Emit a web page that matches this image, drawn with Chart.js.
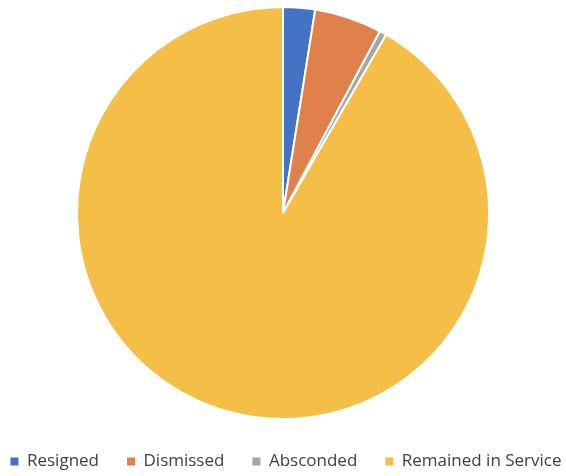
<!DOCTYPE html>
<html>
<head>
    <title>Service Outcome</title>
    <script src="https://cdn.jsdelivr.net/npm/chart.js"></script>
    <style>
        html, body { margin: 0; padding: 0; background: #fff; }
        #wrap { width: 566px; height: 476px; }
    </style>
</head>
<body>
    <div id="wrap"><canvas id="outcomeChart"></canvas></div>
    <script>
        const labels = ['Resigned', 'Dismissed', 'Absconded', 'Remained in Service'];
        const shares = [2.5, 5.3, 0.55, 91.65];
        const colours = ['#4472C4', '#E0804A', '#A5A5A5', '#F4BE47'];

        // keep the legend on one row and push it to the bottom edge
        const legendFix = {
            id: 'legendFix',
            beforeLayout(chart) {
                const lg = chart.legend;
                if (lg && !lg._patched) {
                    const fit = lg.fit.bind(lg);
                    const draw = lg.draw.bind(lg);
                    lg.fit = function () {
                        this.maxWidth = 2000;
                        fit();
                        this.width = chart.width;
                        this.height = 51;
                    };
                    lg.draw = function () {
                        const l = this.left, r = this.right;
                        this.left = l - 194;
                        this.right = r + 200;
                        draw();
                        this.left = l;
                        this.right = r;
                    };
                    lg._patched = true;
                }
            }
        };

        const defaultLabels = Chart.overrides.pie.plugins.legend.labels.generateLabels;

        const ctx = document.getElementById('outcomeChart').getContext('2d');
        new Chart(ctx, {
            type: 'pie',
            data: {
                labels: labels,
                datasets: [{
                    data: shares,
                    backgroundColor: colours,
                    borderColor: '#ffffff',
                    borderWidth: 2
                }]
            },
            options: {
                responsive: true,
                maintainAspectRatio: false,
                animation: false,
                radius: 206,
                layout: { padding: { top: 1 } },
                plugins: {
                    legend: {
                        position: 'bottom',
                        labels: {
                            boxWidth: 8,
                            boxHeight: 8,
                            padding: 28,
                            color: '#404040',
                            font: { family: 'Open Sans', size: 17 },
                            generateLabels(chart) {
                                return defaultLabels(chart).map(item => {
                                    item.lineWidth = 0;
                                    return item;
                                });
                            }
                        }
                    },
                    tooltip: { enabled: false }
                }
            },
            plugins: [legendFix]
        });
    </script>
</body>
</html>
